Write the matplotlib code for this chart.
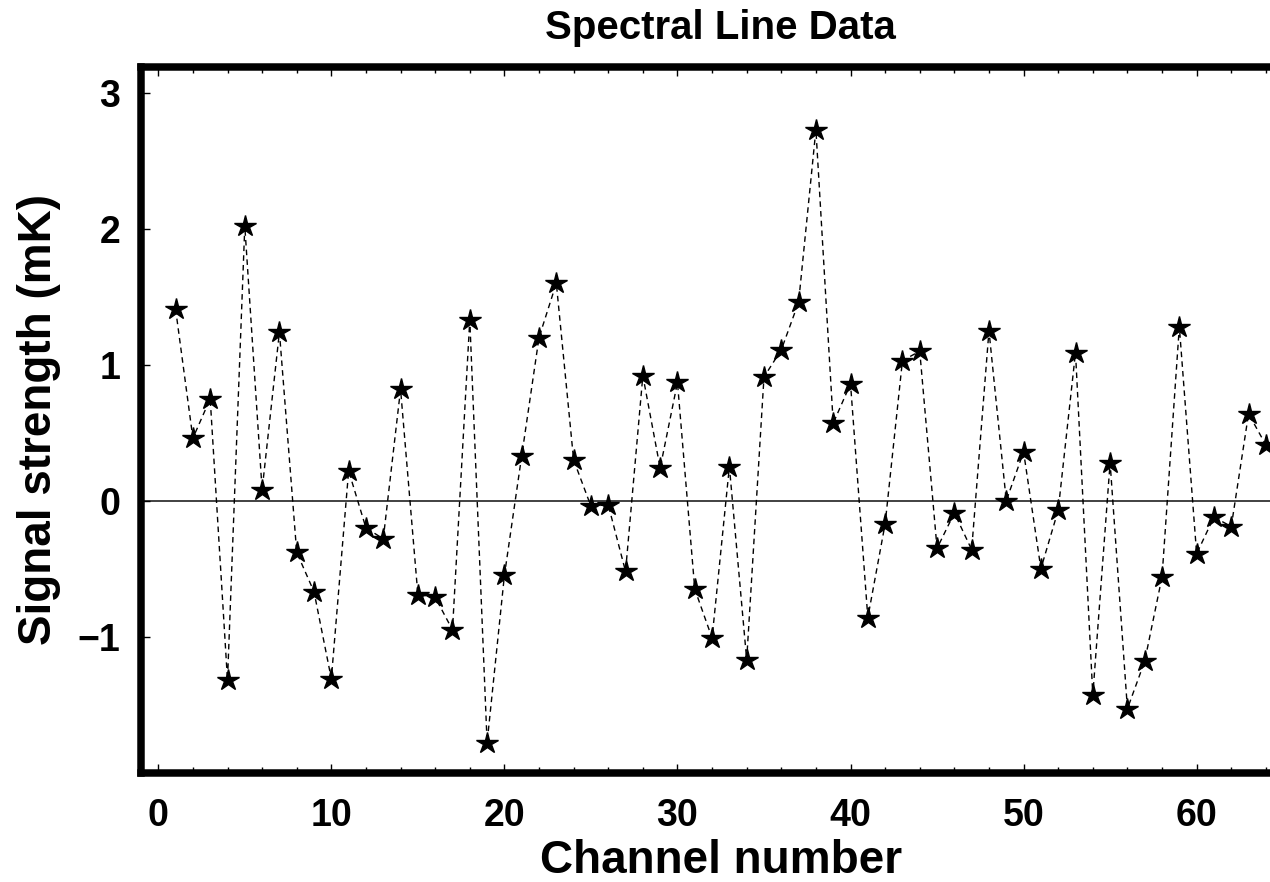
import numpy as np
import matplotlib
matplotlib.use("Agg")
import matplotlib.pyplot as plt
from matplotlib.ticker import MultipleLocator, FixedLocator

# signal strength per channel
channel = list(range(1, 65))
signal = [1.41, 0.46, 0.75, -1.32, 2.02, 0.08, 1.24, -0.38, -0.67, -1.31,
          0.22, -0.20, -0.28, 0.82, -0.69, -0.71, -0.95, 1.33, -1.78, -0.55,
          0.33, 1.20, 1.60, 0.30, -0.04, -0.03, -0.52, 0.92, 0.24, 0.87,
          -0.65, -1.01, 0.25, -1.17, 0.91, 1.11, 1.46, 2.73, 0.57, 0.86,
          -0.86, -0.17, 1.03, 1.10, -0.35, -0.09, -0.36, 1.25, 0.00, 0.36,
          -0.50, -0.07, 1.09, -1.43, 0.28, -1.53, -1.18, -0.56, 1.28, -0.39,
          -0.12, -0.19, 0.64, 0.41]
yticks = [-1, 0, 1, 2, 3]

plt.rcParams['font.family'] = ['Liberation Sans', 'DejaVu Sans']
plt.rcParams['font.weight'] = 'bold'

fig = plt.figure(figsize=(12.7, 8.82), dpi=100)
# axes run past the right edge like the cropped original
ax = fig.add_axes([0.111, 0.124, 0.913, 0.800])

ax.axhline(0, color='#333333', lw=1.3, zorder=1)
ax.plot(channel, signal, ls=(0, (4, 3)), color='black', lw=1.0,
        marker='*', ms=16, mfc='black', mec='black', zorder=2)

ax.set_xlim(-1, 66)
ax.set_ylim(-2.0, 3.19)

ax.xaxis.set_major_locator(MultipleLocator(10))
ax.xaxis.set_minor_locator(MultipleLocator(2))
ax.yaxis.set_major_locator(FixedLocator(yticks))

ax.tick_params(which='both', direction='in', top=True, right=True, width=1.0)
ax.tick_params(which='major', length=6.5)
ax.tick_params(which='minor', length=4.3)
ax.tick_params(axis='x', which='major', labelsize=27, pad=18)
ax.tick_params(axis='y', which='major', labelsize=27, pad=15)

for s in ax.spines.values():
    s.set_linewidth(5.4)

ax.set_title('Spectral Line Data', fontsize=29, fontweight='bold', pad=20)
ax.set_xlabel('Channel number', fontsize=33, fontweight='bold', labelpad=4)
ax.set_ylabel('Signal strength (mK)', fontsize=33, fontweight='bold', labelpad=12)

fig.savefig('out.png', dpi=100)
